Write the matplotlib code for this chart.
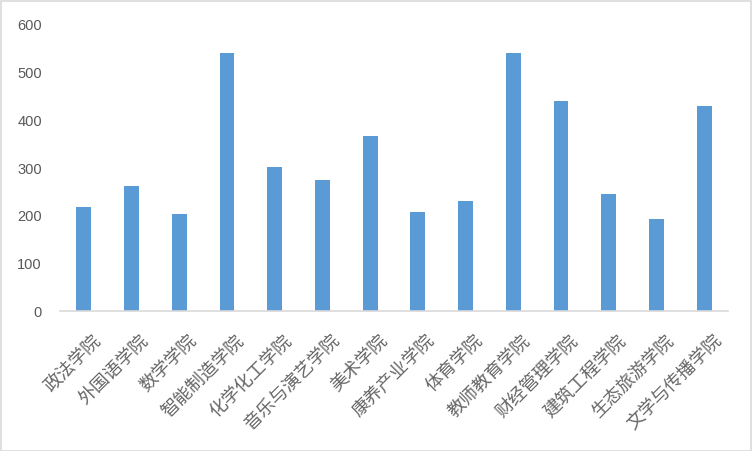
import matplotlib
matplotlib.use("Agg")
import matplotlib.pyplot as plt
import matplotlib.transforms as mtransforms
from matplotlib.patches import Rectangle

categories = ["政法学院", "外国语学院", "数学学院", "智能制造学院", "化学化工学院",
              "音乐与演艺学院", "美术学院", "康养产业学院", "体育学院", "教师教育学院",
              "财经管理学院", "建筑工程学院", "生态旅游学院", "文学与传播学院"]
values = [217, 261, 202, 539, 300, 273, 365, 206, 229, 539, 439, 244, 192, 428]
y_ticks = [0, 100, 200, 300, 400, 500, 600]

plt.rcParams['font.family'] = ['Noto Sans CJK SC', 'DejaVu Sans']

fig = plt.figure(figsize=(7.52, 4.52), dpi=100)
ax = fig.add_axes([60/752, 1-311.5/452, (728-60)/752, (311.5-25)/452])

x = list(range(len(categories)))
ax.bar(x, values, width=0.31, color="#5B9BD5", zorder=2)

ax.set_xlim(-0.5, len(categories) - 0.5)
ax.set_ylim(0, 600)
ax.set_yticks(y_ticks)
ax.set_yticklabels([str(v) for v in y_ticks], color="#595959", fontsize=10.5,
                   family=['Liberation Sans', 'DejaVu Sans'])
ax.tick_params(axis='y', length=0, pad=13)
ax.tick_params(axis='x', length=0, pad=0)

ax.set_xticks(x)
ax.set_xticklabels(categories, rotation=45, ha='right', va='top',
                   rotation_mode='anchor', fontsize=13, color="#666666",
                   fontweight='light')
offset = mtransforms.ScaledTranslation(8/100, -20/100, fig.dpi_scale_trans)
for lbl in ax.get_xticklabels():
    lbl.set_transform(lbl.get_transform() + offset)

for s in ['top', 'right', 'left']:
    ax.spines[s].set_visible(False)
ax.spines['bottom'].set_color("#D9D9D9")
ax.spines['bottom'].set_linewidth(1.2)

fig.patches.append(Rectangle((0.5/752, 0.5/452), 750/752, 450/452, transform=fig.transFigure,
                             fill=False, edgecolor="#D9D9D9", linewidth=1.2))

fig.savefig("out.png", dpi=100)
